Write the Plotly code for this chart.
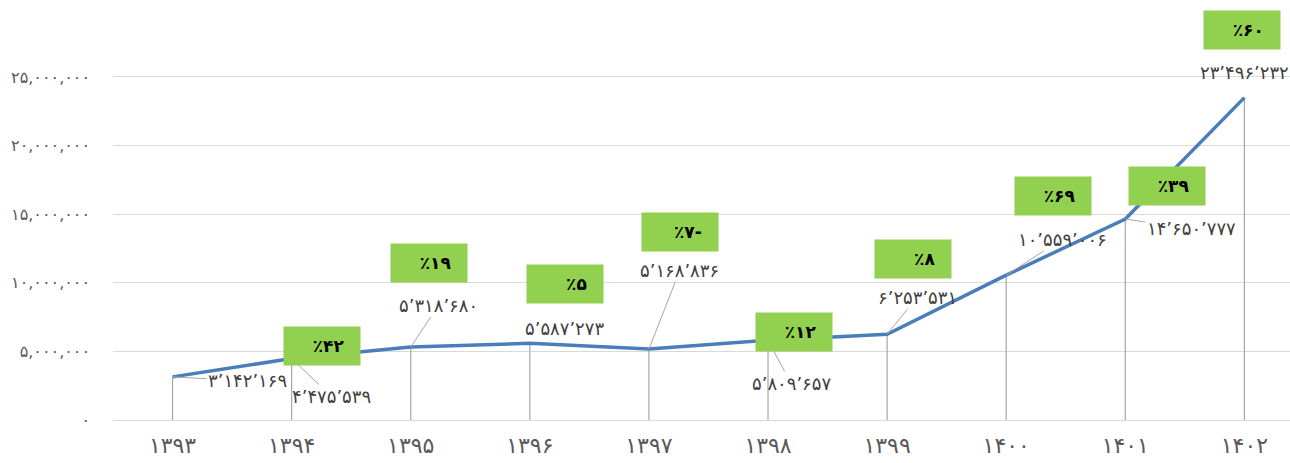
import plotly.graph_objects as go

# Yearly totals (Solar Hijri years)
years = ["۱۳۹۳", "۱۳۹۴", "۱۳۹۵", "۱۳۹۶", "۱۳۹۷", "۱۳۹۸", "۱۳۹۹", "۱۴۰۰", "۱۴۰۱", "۱۴۰۲"]
values = [3142169, 4475539, 5318680, 5587273, 5168836, 5809657, 6253531, 10559006, 14650777, 23496232]
# Year-over-year growth, percent (first year has none)
growth = [None, 42, 19, 5, -7, 12, 8, 69, 39, 60]

y_ticks = [0, 5000000, 10000000, 15000000, 20000000, 25000000]
y_tick_text = ["۰", "۵,۰۰۰,۰۰۰", "۱۰,۰۰۰,۰۰۰", "۱۵,۰۰۰,۰۰۰", "۲۰,۰۰۰,۰۰۰", "۲۵,۰۰۰,۰۰۰"]

FA = str.maketrans("0123456789", "۰۱۲۳۴۵۶۷۸۹")


def fa_number(v):
    return f"{v:,}".replace(",", "’").translate(FA)


def fa_percent(p):
    s = "٪" + str(abs(p)).translate(FA)
    return s + "-" if p < 0 else s


FONT = "DejaVu Sans"
x = list(range(len(years)))

fig = go.Figure()

# Drop lines from each point down to the axis
fig.add_trace(go.Scatter(
    x=x, y=values, mode="markers",
    marker=dict(size=0.1, color="rgba(0,0,0,0)"),
    error_y=dict(type="data", symmetric=False, array=[0] * len(values),
                 arrayminus=values, width=0, color="#A6A6A6", thickness=1.2),
    hoverinfo="skip", showlegend=False,
))

fig.add_trace(go.Scatter(
    x=x, y=values, mode="lines",
    line=dict(color="#4A7EBB", width=3.5),
    showlegend=False,
))

# Value labels: offset in pixels (dx, dy, leader line)
label_pos = [
    (75, 4, True), (40, 38, True), (28, -42, True), (35, -15, False),
    (31, -79, True), (23, 43, True), (30, -37, True), (56, -36, True),
    (66, 10, True), (0, -25, False),
]
for i, v in enumerate(values):
    dx, dy, leader = label_pos[i]
    common = dict(x=i, y=v, xref="x", yref="y", text=fa_number(v),
                  font=dict(family=FONT, size=18, color="#404040"))
    if leader:
        fig.add_annotation(**common, showarrow=True, arrowhead=0, arrowwidth=1,
                           arrowcolor="#A6A6A6", ax=dx, ay=dy, standoff=0)
    else:
        fig.add_annotation(**common, showarrow=False, xshift=dx, yshift=-dy)

# Growth boxes: pixel offset of box centre from the point
box_pos = [None, (30, -13), (18, -84), (35, -59), (31, -117), (26, -8),
           (26, -75), (47, -79), (42, -33), (-2, -68)]
for i, g in enumerate(growth):
    if g is None:
        continue
    dx, dy = box_pos[i]
    fig.add_annotation(
        x=i, y=values[i], xref="x", yref="y",
        text="<b>" + fa_percent(g) + "</b>&nbsp;&nbsp;&nbsp;",
        showarrow=False, xshift=dx, yshift=-dy,
        font=dict(family=FONT, size=17, color="#000000"),
        bgcolor="#92D050", width=76, height=38, borderpad=0,
        align="right",
    )

fig.update_layout(
    width=1290, height=463,
    margin=dict(l=113, r=0, t=63, b=43),
    paper_bgcolor="white", plot_bgcolor="white",
    font=dict(family=FONT),
    xaxis=dict(
        tickvals=x, ticktext=years, range=[-0.5, 9.383],
        showgrid=False, zeroline=False, showline=False,
        tickfont=dict(family=FONT, size=22, color="#595959"),
        ticks="", ticklabelstandoff=10,
    ),
    yaxis=dict(
        range=[0, 26020000], tickvals=y_ticks, ticktext=y_tick_text,
        showgrid=True, gridcolor="#D9D9D9", gridwidth=1,
        zeroline=True, zerolinecolor="#D9D9D9", zerolinewidth=1,
        tickfont=dict(family=FONT, size=16, color="#595959"),
        ticklabelstandoff=22,
    ),
)

fig.write_html("out.html")
